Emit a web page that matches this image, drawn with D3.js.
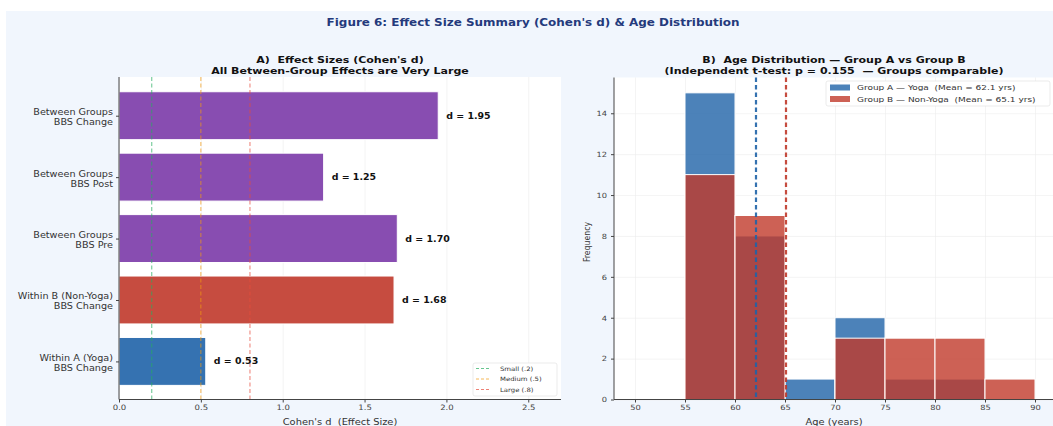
<!DOCTYPE html>
<html><head><meta charset="utf-8">
<script src="https://cdn.jsdelivr.net/npm/d3@7"></script>
<style>body{margin:0;background:#fff;font-family:"DejaVu Sans",sans-serif} text{white-space:pre}</style>
</head><body><svg id="c" width="1053" height="426"></svg>
<script>
const effectLabels = [["Within A (Yoga)","BBS Change"],["Within B (Non-Yoga)","BBS Change"],["Between Groups","BBS Pre"],["Between Groups","BBS Post"],["Between Groups","BBS Change"]];
const effectValues = [0.53, 1.68, 1.70, 1.25, 1.95];
const effectColors = ["#1f63a8","#c0392b","#7b3aa8","#7b3aa8","#7b3aa8"];
const thresholds = [0.2, 0.5, 0.8];
const thresholdNames = ["Small (.2)","Medium (.5)","Large (.8)"];
const thresholdColors = ["#27ae60","#f39c12","#e74c3c"];
const effectTicks = [0, 0.5, 1.0, 1.5, 2.0, 2.5];
const binEdges = [55, 60, 65, 70, 75, 80, 85, 90];
const groupACounts = [15, 8, 1, 4, 1, 1, 0];
const groupBCounts = [11, 9, 0, 3, 3, 3, 1];
const groupMeans = [62.1, 65.1];
const groupNames = ["Group A — Yoga  (Mean = 62.1 yrs)","Group B — Non-Yoga  (Mean = 65.1 yrs)"];
const groupColors = ["#1f63a8","#c0392b"];
const ageTicks = [50,55,60,65,70,75,80,85,90];
const freqTicks = [0,2,4,6,8,10,12,14];

const SX = 1.15;
const svg = d3.select("#c");
function T(g, x, y, size, str, o={}) {
  const t = g.append("text").attr("transform",`translate(${x},${y}) scale(${SX},1)`)
    .attr("font-size",size).attr("text-anchor",o.anchor||"start").attr("fill",o.fill||"#222");
  if (o.bold) t.attr("font-weight","bold");
  if (str !== null) t.text(str);
  return t;
}
function styleAxis(ax, size) {
  ax.select(".domain").attr("stroke","#444");
  ax.selectAll("line").attr("stroke","#444");
  ax.selectAll("text").attr("font-size",size).attr("fill","#444").attr("font-family","DejaVu Sans").attr("transform",`scale(${SX},1)`);
}

svg.append("rect").attr("x",6).attr("y",11).attr("width",1047).attr("height",415).attr("fill","#f1f6fd");
T(svg, 533, 26, 10.4, "Figure 6: Effect Size Summary (Cohen's d) & Age Distribution", {anchor:"middle", bold:true, fill:"#243a7c"});

// ---------- Panel A ----------
const A = {l:119, r:561, t:77, b:399.5};
const xA = d3.scaleLinear().domain([0,2.7]).range([A.l,A.r]);
const yA = d3.scaleLinear().domain([-0.62,4.63]).range([A.b,A.t]);
const gA = svg.append("g");
gA.append("rect").attr("x",A.l).attr("y",A.t).attr("width",A.r-A.l).attr("height",A.b-A.t).attr("fill","#fff");
gA.append("g").attr("transform",`translate(0,${A.b})`).call(d3.axisBottom(xA).tickValues(effectTicks).tickSize(-(A.b-A.t)).tickFormat(()=>""))
  .call(g=>{g.select(".domain").remove();g.selectAll("line").attr("stroke","#ececec").attr("stroke-width",0.6);});
const bh = 0.78;
gA.selectAll("rect.bar").data(effectValues).join("rect").attr("class","bar")
  .attr("x",xA(0)).attr("y",(d,i)=>yA(i+bh/2)).attr("width",d=>xA(d)-xA(0)).attr("height",(d,i)=>yA(i-bh/2)-yA(i+bh/2))
  .attr("fill",(d,i)=>effectColors[i]).attr("fill-opacity",0.9).attr("stroke","#fff").attr("stroke-width",1);
thresholds.forEach((t,i)=>{
  gA.append("line").attr("x1",xA(t)).attr("x2",xA(t)).attr("y1",A.t).attr("y2",A.b)
    .attr("stroke",thresholdColors[i]).attr("stroke-width",1.1).attr("stroke-dasharray","4,2.5").attr("opacity",0.65);
});
effectValues.forEach((d,i)=>{
  T(gA, xA(d)+8, yA(i)+3, 8.2, "d = "+d.toFixed(2), {bold:true, fill:"#111"});
});
const axB = gA.append("g").attr("transform",`translate(0,${A.b})`).call(d3.axisBottom(xA).tickValues(effectTicks).tickSize(3).tickPadding(2).tickFormat(d3.format(".1f")));
axB.select(".domain").attr("d",`M${A.l},0H${A.r}`);
styleAxis(axB, 7.4);
const axL = gA.append("g").attr("transform",`translate(${A.l},0)`).call(d3.axisLeft(yA).tickValues([0,1,2,3,4]).tickSize(3).tickFormat(""));
axL.select(".domain").attr("d",`M0,${A.t}V${A.b}`);
styleAxis(axL, 7.4);
effectLabels.forEach((lab,i)=>{
  T(gA, A.l-6, yA(i)-0.5, 8.4, lab[0], {anchor:"end", fill:"#333"});
  T(gA, A.l-6, yA(i)+9.5, 8.4, lab[1], {anchor:"end", fill:"#333"});
});
T(gA, (A.l+A.r)/2, 63, 9.6, "A)  Effect Sizes (Cohen's d)", {anchor:"middle", bold:true, fill:"#111"});
T(gA, (A.l+A.r)/2, 74, 9.6, "All Between-Group Effects are Very Large", {anchor:"middle", bold:true, fill:"#111"});
T(gA, (A.l+A.r)/2, 424.5, 8.6, "Cohen's d  (Effect Size)", {anchor:"middle", fill:"#333"});
const legA = gA.append("g");
legA.append("rect").attr("x",473).attr("y",363).attr("width",84).attr("height",33).attr("fill","#fff").attr("stroke","#ddd").attr("stroke-width",0.6).attr("rx",2);
thresholdNames.forEach((n,i)=>{
  const y = 368.5 + i*10.5;
  legA.append("line").attr("x1",476).attr("x2",491).attr("y1",y).attr("y2",y).attr("stroke",thresholdColors[i]).attr("stroke-width",1).attr("stroke-dasharray","3,2").attr("opacity",0.7);
  T(legA, 500, y+2.2, 6, n, {fill:"#333"});
});

// ---------- Panel B ----------
const B = {l:614, r:1053, t:77.5, b:399.5};
const xB = d3.scaleLinear().domain([47.9,91.8]).range([B.l,B.r]);
const yB = d3.scaleLinear().domain([0,15.75]).range([B.b,B.t]);
const gB = svg.append("g");
gB.append("rect").attr("x",B.l).attr("y",B.t).attr("width",B.r-B.l).attr("height",B.b-B.t).attr("fill","#fff");
gB.append("g").attr("transform",`translate(0,${B.b})`).call(d3.axisBottom(xB).tickValues(ageTicks).tickSize(-(B.b-B.t)).tickFormat(()=>""))
  .call(g=>{g.select(".domain").remove();g.selectAll("line").attr("stroke","#ececec").attr("stroke-width",0.6);});
gB.append("g").attr("transform",`translate(${B.l},0)`).call(d3.axisLeft(yB).tickValues(freqTicks).tickSize(-(B.r-B.l)).tickFormat(()=>""))
  .call(g=>{g.select(".domain").remove();g.selectAll("line").attr("stroke","#ececec").attr("stroke-width",0.6);});
[groupACounts, groupBCounts].forEach((counts,gi)=>{
  gB.selectAll(null).data(counts).join("rect")
    .attr("x",(d,i)=>xB(binEdges[i])).attr("y",d=>yB(d)).attr("width",(d,i)=>xB(binEdges[i+1])-xB(binEdges[i]))
    .attr("height",d=>yB(0)-yB(d)).attr("fill",groupColors[gi]).attr("fill-opacity",0.8)
    .attr("stroke",d=>d>0?"#fff":"none").attr("stroke-width",1);
});
groupMeans.forEach((m,i)=>{
  gB.append("line").attr("x1",xB(m)).attr("x2",xB(m)).attr("y1",B.t).attr("y2",B.b)
    .attr("stroke",groupColors[i]).attr("stroke-width",2.2).attr("stroke-dasharray","4.5,3").attr("opacity",0.9);
});
const axBB = gB.append("g").attr("transform",`translate(0,${B.b})`).call(d3.axisBottom(xB).tickValues(ageTicks).tickSize(3).tickPadding(2));
axBB.select(".domain").attr("d",`M${B.l},0H${B.r}`);
styleAxis(axBB, 7.2);
const axBL = gB.append("g").attr("transform",`translate(${B.l},0)`).call(d3.axisLeft(yB).tickValues(freqTicks).tickSize(3));
axBL.select(".domain").attr("d",`M0,${B.t}V${B.b}`);
styleAxis(axBL, 7.2);
T(gB, 834, 63, 9.6, "B)  Age Distribution — Group A vs Group B", {anchor:"middle", bold:true, fill:"#111"});
T(gB, 834, 74, 9.6, "(Independent t-test: p = 0.155  — Groups comparable)", {anchor:"middle", bold:true, fill:"#111"});
T(gB, 834, 424.5, 8.6, "Age (years)", {anchor:"middle", fill:"#333"});
gB.append("text").attr("transform","translate(590,242) rotate(-90) scale(1,"+SX+")").attr("text-anchor","middle").attr("font-size",7.8).attr("fill","#333").text("Frequency");
const legB = gB.append("g");
legB.append("rect").attr("x",826).attr("y",81).attr("width",224).attr("height",25).attr("fill","#fff").attr("stroke","#ddd").attr("stroke-width",0.6).attr("rx",2);
groupNames.forEach((n,i)=>{
  const y = 87.5 + i*11.5;
  legB.append("rect").attr("x",830).attr("y",y-3).attr("width",20).attr("height",6).attr("fill",groupColors[i]).attr("fill-opacity",0.8);
  T(legB, 857, y+2.8, 7.8, n, {fill:"#333"});
});
</script></body></html>
